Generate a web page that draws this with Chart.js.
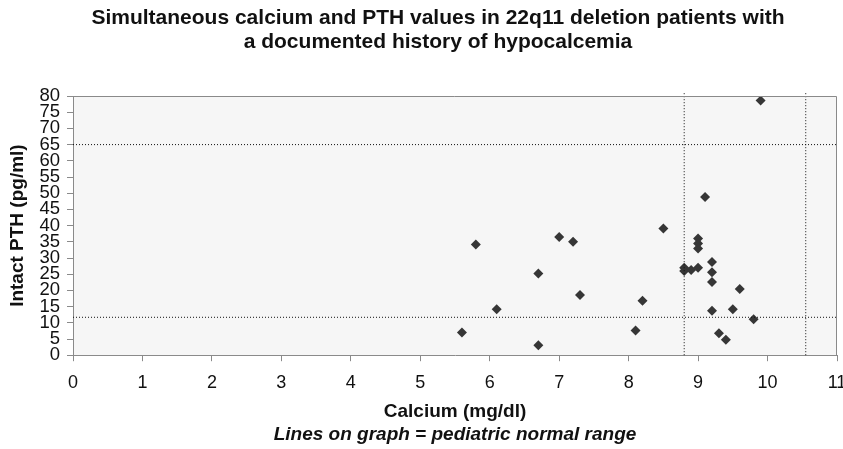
<!DOCTYPE html>
<html>
<head>
<meta charset="utf-8">
<script src="https://cdn.jsdelivr.net/npm/chart.js@4"></script>
<style>
  html, body { margin: 0; padding: 0; background: #fff; }
  #wrap { width: 843px; height: 449px; }
</style>
</head>
<body>
<div id="wrap"><canvas id="grafico" width="843" height="449"></canvas></div>
<script>
// calcium (mg/dl) and intact PTH (pg/ml) for each patient
const calcium = [9.9, 9.1, 8.5, 9.0, 9.0, 9.0, 7.0, 7.2, 5.8, 6.7, 7.3, 6.1, 5.6, 6.7, 8.1, 8.2,
                 8.8, 8.8, 8.9, 9.0, 9.2, 9.2, 9.2, 9.2, 9.6, 9.5, 9.8, 9.3, 9.4];
const pth = [78.6, 48.8, 39.1, 36.0, 34.5, 32.9, 36.5, 35.0, 34.2, 25.2, 18.6, 14.2, 7.0, 3.1, 7.6, 16.8,
             27.0, 26.0, 26.3, 27.0, 28.8, 25.6, 22.6, 13.7, 20.4, 14.2, 11.1, 6.8, 4.8];

// pediatric normal range shown as dotted lines
const caRange = [8.8, 10.55];
const pthRange = [11.7, 65];

const xTicks = [0, 1, 2, 3, 4, 5, 6, 7, 8, 9, 10, 11];
const yTicks = [0, 5, 10, 15, 20, 25, 30, 35, 40, 45, 50, 55, 60, 65, 70, 75, 80];

const titulo = ["Simultaneous calcium and PTH values in 22q11 deletion patients with",
                "a documented history of hypocalcemia"];

const fuente = "'Liberation Sans', Arial, sans-serif";

const lineaRef = (pts) => ({
  type: "line",
  data: pts,
  borderColor: "#111",
  borderWidth: 1,
  borderDash: [1, 2],
  pointRadius: 0,
  clip: false,
  fill: false
});

const datasets = [];
caRange.forEach(c => datasets.push(lineaRef([{ x: c, y: 0 }, { x: c, y: 81 }])));
pthRange.forEach(p => datasets.push(lineaRef([{ x: 0, y: p }, { x: 11, y: p }])));
datasets.push({
  type: "scatter",
  data: calcium.map((c, i) => ({ x: c, y: pth[i] })),
  pointStyle: "rectRot",
  pointRadius: 5,
  pointHoverRadius: 5,
  backgroundColor: "#363636",
  borderColor: "#363636",
  borderWidth: 0
});

// plot background, top/right frame and the (slightly off-centre) title
const fondo = {
  id: "fondo",
  beforeDraw(chart) {
    const { ctx, chartArea: a } = chart;
    ctx.save();
    ctx.fillStyle = "#f6f6f6";
    ctx.fillRect(a.left, a.top, a.right - a.left, a.bottom - a.top);
    ctx.fillStyle = "#111";
    ctx.font = "bold 21px " + fuente;
    ctx.textAlign = "center";
    ctx.textBaseline = "middle";
    ctx.fillText(titulo[0], 438, 18);
    ctx.fillText(titulo[1], 438, 42);
    ctx.restore();
  },
  afterDatasetsDraw(chart) {
    const { ctx, chartArea: a } = chart;
    ctx.save();
    ctx.strokeStyle = "#8a8a8a";
    ctx.lineWidth = 1;
    ctx.beginPath();
    ctx.moveTo(a.left, a.top + 0.5);
    ctx.lineTo(a.right - 0.5, a.top + 0.5);
    ctx.lineTo(a.right - 0.5, a.bottom);
    ctx.stroke();
    ctx.restore();
  }
};

new Chart(document.getElementById("grafico"), {
  type: "scatter",
  data: { datasets: datasets },
  plugins: [fondo],
  options: {
    responsive: false,
    animation: false,
    layout: { padding: { left: 0, right: 6, top: 96, bottom: 3 } },
    plugins: {
      legend: { display: false },
      tooltip: { enabled: false },
      title: { display: false },
      subtitle: {
        display: true,
        position: "bottom",
        fullSize: false,
        text: "Lines on graph = pediatric normal range",
        color: "#111",
        font: { family: fuente, size: 19, style: "italic", weight: "bold", lineHeight: 1.2 },
        padding: { top: 0, bottom: 0 }
      }
    },
    scales: {
      x: {
        type: "linear",
        min: 0,
        max: 11,
        afterBuildTicks: s => { s.ticks = xTicks.map(v => ({ value: v })); },
        afterFit: s => { s.paddingRight = 0; s.height = 68; },
        ticks: { color: "#111", font: { family: fuente, size: 18, lineHeight: 1.2 }, padding: 11, autoSkip: false, maxRotation: 0 },
        grid: { drawOnChartArea: false, tickLength: 6, color: "#8a8a8a" },
        border: { color: "#8a8a8a" },
        title: {
          display: true,
          text: "Calcium (mg/dl)",
          color: "#111",
          font: { family: fuente, size: 19, weight: "bold", lineHeight: 1.2 },
          padding: { top: 7, bottom: 0 }
        }
      },
      y: {
        type: "linear",
        min: 0,
        max: 80,
        afterBuildTicks: s => { s.ticks = yTicks.map(v => ({ value: v })); },
        afterFit: s => { s.width = 73; },
        ticks: { color: "#111", font: { family: fuente, size: 18.5, lineHeight: 1 }, padding: 7, autoSkip: false },
        grid: { drawOnChartArea: false, tickLength: 6, color: "#8a8a8a" },
        border: { color: "#8a8a8a" },
        title: {
          display: true,
          text: "Intact PTH (pg/ml)",
          color: "#111",
          font: { family: fuente, size: 19, weight: "bold", lineHeight: 1.2 },
          padding: { top: 6, bottom: 0 }
        }
      }
    }
  }
});
</script>
</body>
</html>
